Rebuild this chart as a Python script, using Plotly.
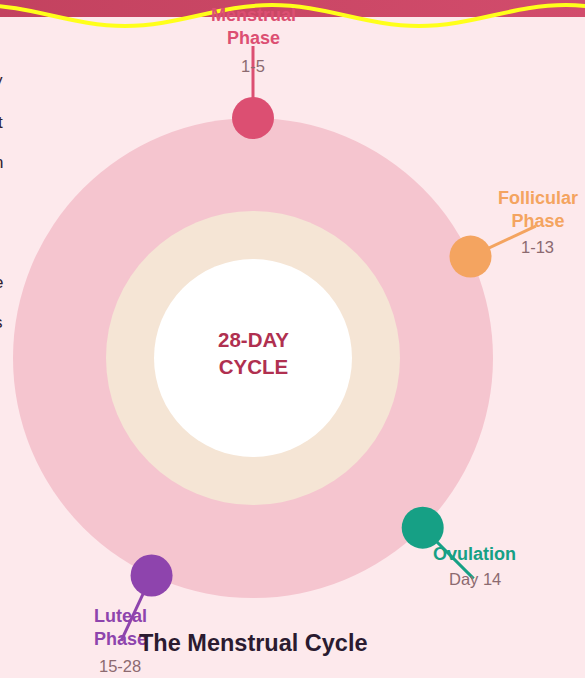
import math
import plotly.graph_objects as go

# ---------------- data ----------------
phase_names = ["Menstrual<br>Phase", "Follicular<br>Phase", "Ovulation", "Luteal<br>Phase"]
phase_days = ["1-5", "1-13", "Day 14", "15-28"]
phase_angles = [90, 25, -45, -115]          # position on the cycle ring (degrees)
phase_colors = ["#dc4f72", "#f4a460", "#16a085", "#8e44ad"]
center_label = "28-DAY<br>CYCLE"
chart_title = "The Menstrual Cycle"

# ---------------- geometry / style ----------------
W, H = 585, 678
CX, CY, R = 253, 358, 240          # pixel centre and outer radius of ring
RING_MID = 147 / R
RING_IN = 99 / R
LEADER = 1.30
BG = "#fde9ec"

def px(xp, yp):
    return (xp - CX) / R, (CY - yp) / R

# per-label text offsets (pixels) relative to leader end: (name dx, name dy, days dy)
label_offsets = [(0, 20, -20), (2, 17, -21), (1, 25, 0), (-1, 13, -25)]

fig = go.Figure()

# header band
bx = [px(0, 0)[0], px(W, 0)[0], px(W, 17)[0], px(0, 17)[0], px(0, 0)[0]]
by = [px(0, 0)[1], px(W, 0)[1], px(W, 17)[1], px(0, 17)[1], px(0, 0)[1]]
fig.add_trace(go.Scatter(x=bx, y=by, mode="none", fill="toself",
                         fillgradient=dict(type="horizontal",
                                           colorscale=[[0, "#c3425f"], [1, "#d24c6c"]]),
                         hoverinfo="skip", showlegend=False))

# leader lines
for a, c in zip(phase_angles, phase_colors):
    t = math.radians(a)
    fig.add_trace(go.Scatter(x=[math.cos(t), LEADER * math.cos(t)],
                             y=[math.sin(t), LEADER * math.sin(t)],
                             mode="lines", line=dict(color=c, width=3),
                             hoverinfo="skip", showlegend=False))

# phase markers
fig.add_trace(go.Scatter(
    x=[math.cos(math.radians(a)) for a in phase_angles],
    y=[math.sin(math.radians(a)) for a in phase_angles],
    mode="markers", marker=dict(size=42, color=phase_colors, line=dict(width=0)),
    hoverinfo="skip", showlegend=False))

shapes = [
    dict(type="circle", xref="x", yref="y", x0=-1, y0=-1, x1=1, y1=1,
         fillcolor="#f5c5cf", line=dict(width=0), layer="below"),
    dict(type="circle", xref="x", yref="y", x0=-RING_MID, y0=-RING_MID, x1=RING_MID, y1=RING_MID,
         fillcolor="#f5e5d5", line=dict(width=0), layer="below"),
    dict(type="circle", xref="x", yref="y", x0=-RING_IN, y0=-RING_IN, x1=RING_IN, y1=RING_IN,
         fillcolor="#ffffff", line=dict(width=0), layer="below"),
]

# yellow wave (decoration)
crest, trough = 5, 26
half = 147
xs = [-22 + i * half for i in range(6)]
ys = [crest if i % 2 == 0 else trough for i in range(6)]
k = 0.36 * half
p0 = px(xs[0], ys[0])
path = f"M {p0[0]},{p0[1]}"
for i in range(1, 6):
    c1 = px(xs[i - 1] + k, ys[i - 1])
    c2 = px(xs[i] - k, ys[i])
    e = px(xs[i], ys[i])
    path += f" C {c1[0]},{c1[1]} {c2[0]},{c2[1]} {e[0]},{e[1]}"
shapes.append(dict(type="path", xref="x", yref="y", path=path,
                   line=dict(color="#ffff1a", width=4), fillcolor="rgba(0,0,0,0)"))

annotations = []
for name, days, a, c, off in zip(phase_names, phase_days, phase_angles, phase_colors, label_offsets):
    t = math.radians(a)
    lx, ly = LEADER * math.cos(t), LEADER * math.sin(t)
    annotations.append(dict(x=lx, y=ly, xref="x", yref="y", text=f"<b>{name}</b>",
                            showarrow=False, xshift=off[0], yshift=off[1],
                            font=dict(family="Liberation Sans, Arial", size=18, color=c)))
    annotations.append(dict(x=lx, y=ly, xref="x", yref="y", text=days,
                            showarrow=False, xshift=off[0], yshift=off[2],
                            font=dict(family="Liberation Sans, Arial", size=16.5, color="#8c6a70")))

annotations.append(dict(x=0, y=0, xref="x", yref="y", text=f"<b>{center_label}</b>",
                        showarrow=False, yshift=5,
                        font=dict(family="Liberation Sans, Arial", size=20.5, color="#b03050")))
tx, ty = px(253, 643)
annotations.append(dict(x=tx, y=ty, xref="x", yref="y", text=f"<b>{chart_title}</b>",
                        showarrow=False,
                        font=dict(family="Liberation Sans, Arial", size=23.5, color="#2b1b30")))

# clipped text fragments on the left edge
for ch, yp in zip(["y", "t", "n", "e", "s"], [80, 122, 162, 282, 322]):
    ex, ey = px(4, yp)
    annotations.append(dict(x=ex, y=ey, xref="x", yref="y", text=ch, showarrow=False,
                            xanchor="right", xshift=1,
                            font=dict(family="Liberation Sans, Arial", size=17, color="#2e2030")))

x0, y0 = px(0, H)
x1, y1 = px(W, 0)
fig.update_layout(
    width=W, height=H, margin=dict(l=0, r=0, t=0, b=0),
    paper_bgcolor=BG, plot_bgcolor=BG,
    xaxis=dict(range=[x0, x1], visible=False, fixedrange=True),
    yaxis=dict(range=[y0, y1], visible=False, fixedrange=True),
    shapes=shapes, annotations=annotations, showlegend=False,
)
fig.write_html("out.html", config={"displayModeBar": False},
               post_script="document.body.style.margin='0';document.body.style.overflow='hidden';document.body.style.background='" + BG + "';")
